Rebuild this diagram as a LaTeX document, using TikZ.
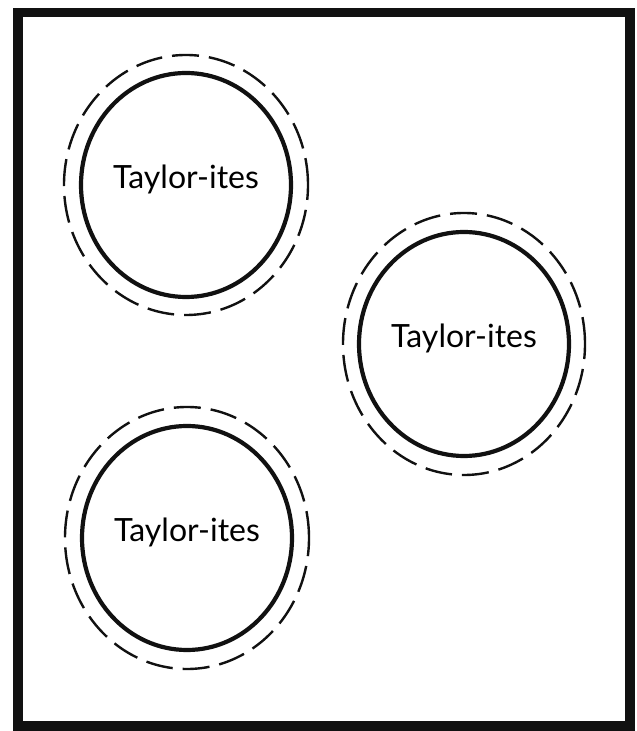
\documentclass[tikz,border=0pt]{standalone}
\usepackage{fontspec}
\setmainfont{Lato}
\usepackage{xcolor}
\usepackage{tikz}
\usetikzlibrary{shapes.geometric}
\definecolor{ink}{HTML}{111111}

\begin{document}
\begin{tikzpicture}[x=1pt, y=1pt,
    group/.style={draw=ink, ellipse, line width=4.2pt, inner sep=0pt,
                  minimum width=210pt, minimum height=224pt,
                  font=\fontsize{32}{38}\selectfont, text height=0.72em, text depth=0pt},
    halo/.style={draw=ink, line width=2.4pt, dash pattern=on 27pt off 10pt}]
      \useasboundingbox (0,0) rectangle (637,731);
      \draw[ink, line width=9.5pt] (18,5) rectangle (630,718.5);
      \node[group] (top) at (186,546) {Taylor-ites};
      \node[group] (side) at (464,387) {Taylor-ites};
      \node[group] (low) at (187,193) {Taylor-ites};
      \draw[halo] (top.center) ellipse [x radius=122pt, y radius=130pt];
      \draw[halo] (side.center) ellipse [x radius=121pt, y radius=131pt];
      \draw[halo] (low.center) ellipse [x radius=122pt, y radius=131pt];
    \end{tikzpicture}
\end{document}
